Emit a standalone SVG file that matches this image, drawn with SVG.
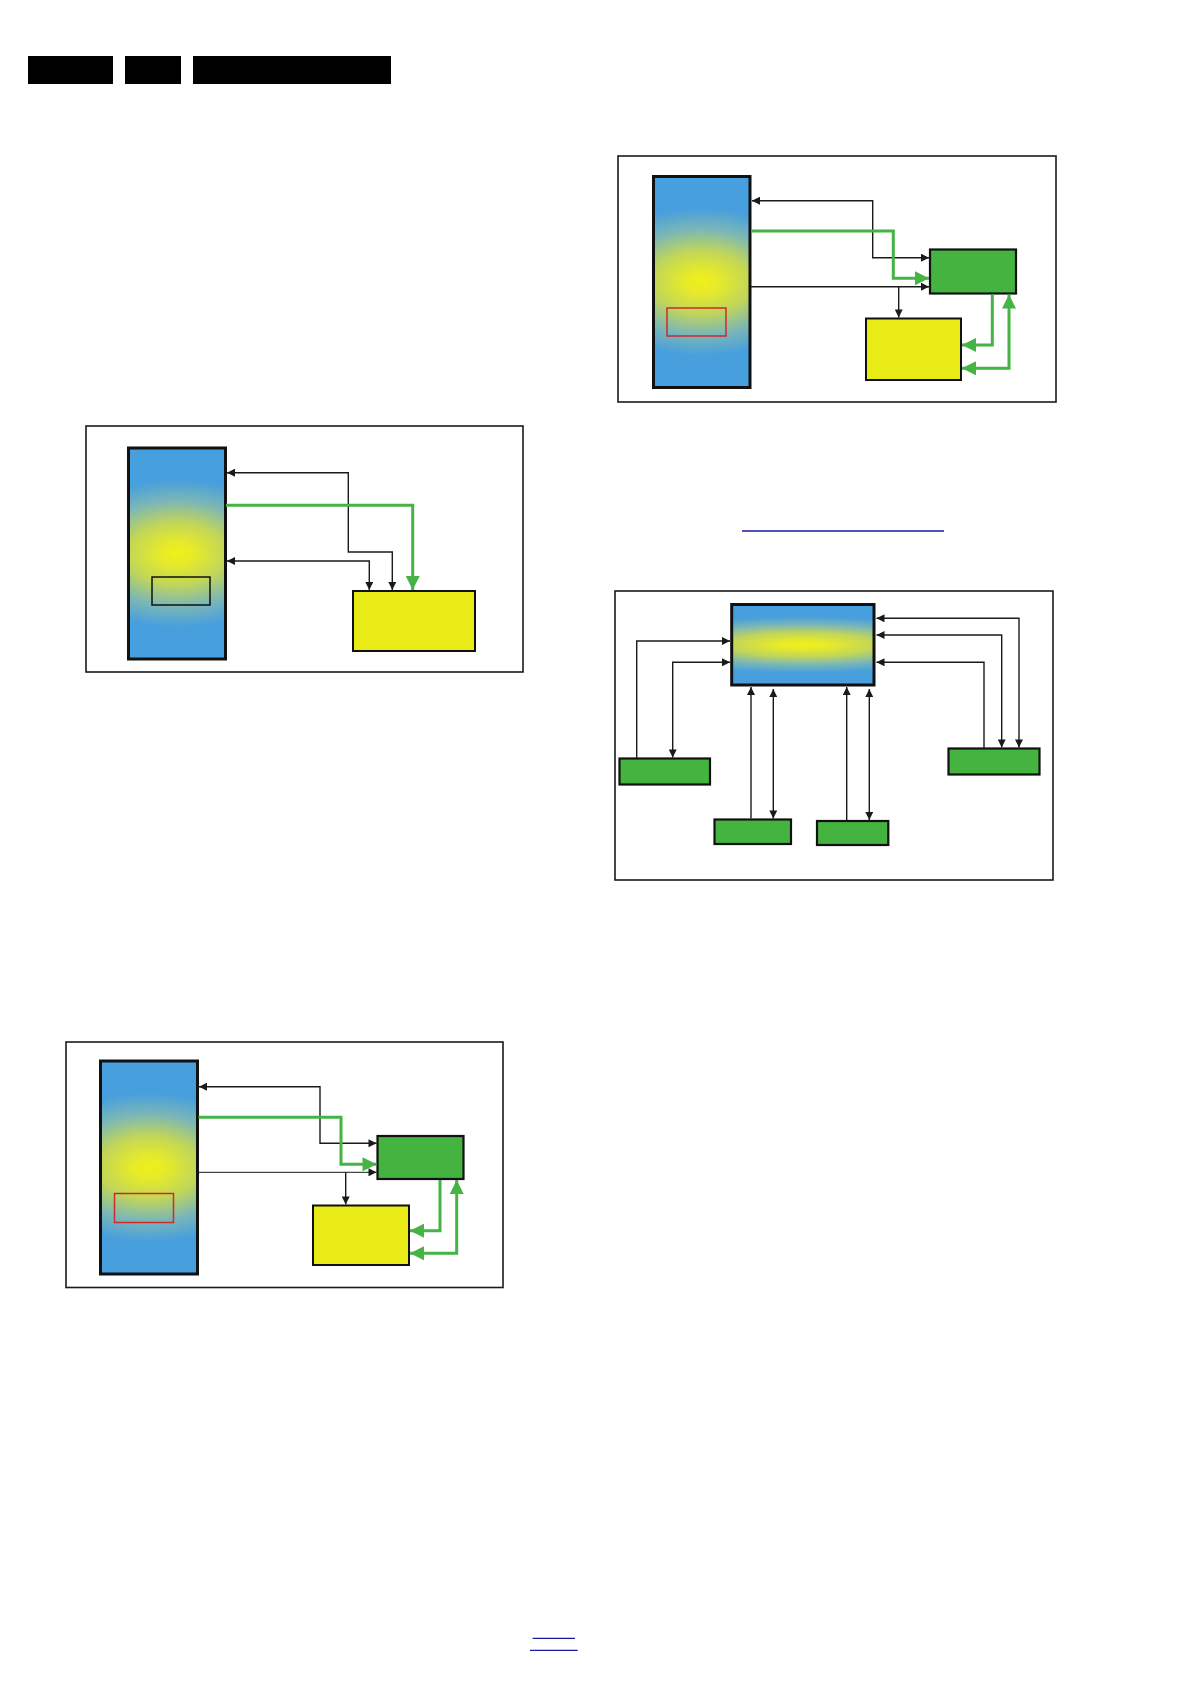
<svg xmlns="http://www.w3.org/2000/svg" width="1191" height="1684" viewBox="0 0 1191 1684">
<defs>
<radialGradient id="gTall" cx="0.5" cy="0.5" r="0.5" gradientTransform="translate(0.5,0.5) scale(2.4,0.7) translate(-0.5,-0.5)">
<stop offset="0" stop-color="#f0f01a"/>
<stop offset="0.15" stop-color="#e6ea2a"/>
<stop offset="0.42" stop-color="#c2d658"/>
<stop offset="0.72" stop-color="#7ab6b8"/>
<stop offset="1" stop-color="#479fdd"/>
</radialGradient>
<radialGradient id="gWide" cx="0.5" cy="0.5" r="0.5" gradientTransform="translate(0.5,0.5) scale(2.4,0.7) translate(-0.5,-0.5)">
<stop offset="0" stop-color="#f0f01a"/>
<stop offset="0.15" stop-color="#e6ea2a"/>
<stop offset="0.42" stop-color="#c2d658"/>
<stop offset="0.72" stop-color="#7ab6b8"/>
<stop offset="1" stop-color="#479fdd"/>
</radialGradient>
<marker id="ab" viewBox="0 0 10 10" refX="10" refY="5" markerUnits="userSpaceOnUse" markerWidth="9" markerHeight="8" orient="auto-start-reverse">
<path d="M0,0 L10,5 L0,10 z" fill="#1a1a1a"/>
</marker>
<marker id="ag" viewBox="0 0 10 10" refX="10" refY="5" markerUnits="userSpaceOnUse" markerWidth="15" markerHeight="14" orient="auto-start-reverse">
<path d="M0,0 L10,5 L0,10 z" fill="#46b345"/>
</marker>
<style>
.frame{fill:#fff;stroke:#1a1a1a;stroke-width:1.6}
.chip{stroke:#111;stroke-width:3}
.yel{fill:#e8eb15;stroke:#111;stroke-width:2}
.grn{fill:#44b33f;stroke:#111;stroke-width:2.2}
.bk{fill:none;stroke:#1a1a1a;stroke-width:1.4;marker-end:url(#ab)}
.bk2{fill:none;stroke:#1a1a1a;stroke-width:1.4;marker-start:url(#ab);marker-end:url(#ab)}
.gn{fill:none;stroke:#46b345;stroke-width:3;marker-end:url(#ag)}
.gn2{fill:none;stroke:#46b345;stroke-width:3;marker-start:url(#ag);marker-end:url(#ag)}
.hdr{fill:#000}
.lnk{stroke:#1a1aa0;stroke-width:1.3}
</style>
</defs>
<rect width="1191" height="1684" fill="#fff"/>

<g id="header">
<rect class="hdr" x="28" y="56" width="85" height="28"/>
<rect class="hdr" x="125" y="56" width="56" height="28"/>
<rect class="hdr" x="193" y="56" width="198" height="28"/>
</g>

<!-- Diagram 1 -->
<g id="frame1"><rect class="frame" x="86" y="426" width="437" height="246"/></g>
<g id="d1-chip"><rect class="chip" x="128.5" y="448" width="97" height="211" fill="url(#gTall)"/><rect x="152" y="577" width="58" height="28" fill="none" stroke="#111" stroke-width="1.5"/></g>
<g id="d1-yellow"><rect class="yel" x="353" y="591" width="122" height="60"/></g>
<g id="d1-connectors">
<path class="bk2" d="M227,472.7 H348.3 V552 H392.3 V590"/>
<path class="bk2" d="M227,561 H369.3 V590"/>
<path class="gn" d="M226,505.3 H412.7 V590"/>
</g>

<!-- Diagram 2 -->
<g id="frame2"><rect class="frame" x="618" y="156" width="438" height="246"/></g>
<g id="d2-chip"><rect class="chip" x="653.5" y="176.5" width="96.5" height="211" fill="url(#gTall)"/><rect x="667" y="308" width="59" height="28" fill="none" stroke="#d0282c" stroke-width="1.5"/></g>
<g id="d2-green"><rect class="grn" x="930" y="249.5" width="86" height="44"/></g>
<g id="d2-yellow"><rect class="yel" x="866" y="318.5" width="95" height="61.5"/></g>
<g id="d2-connectors">
<path class="bk2" d="M752,200.7 H872.7 V257.7 H929"/>
<path class="gn" d="M751,231 H893.3 V278.3 H929"/>
<path class="bk" d="M751,286.7 H929"/>
<path class="bk" d="M898.7,286.7 V317.5"/>
<path class="gn" d="M992.3,294.5 V345 H962"/>
<path class="gn2" d="M962,368.3 H1009 V294.5"/>
</g>

<!-- link line -->
<line class="lnk" x1="742" y1="531" x2="944" y2="531"/>

<!-- Diagram 4 -->
<g id="frame4"><rect class="frame" x="615" y="591" width="438" height="289"/></g>
<g id="d4-chip"><rect class="chip" x="731.7" y="604.5" width="142.3" height="80.5" fill="url(#gWide)"/></g>
<g id="d4-left"><rect class="grn" x="619.5" y="758.5" width="90.5" height="26"/></g>
<g id="d4-bot1"><rect class="grn" x="714.5" y="819.5" width="76.5" height="24.5"/></g>
<g id="d4-bot2"><rect class="grn" x="817" y="821" width="71.3" height="24"/></g>
<g id="d4-right"><rect class="grn" x="948.5" y="748.5" width="91" height="26"/></g>
<g id="d4-connectors">
<path class="bk" d="M636.7,758.3 V641 H730"/>
<path class="bk2" d="M730,662.3 H672.7 V757.5"/>
<path class="bk" d="M751,818.5 V687"/>
<path class="bk2" d="M773.3,689 V818.5"/>
<path class="bk" d="M846.7,820 V687"/>
<path class="bk2" d="M869.3,689 V820"/>
<path class="bk2" d="M876.5,618.3 H1019 V747.5"/>
<path class="bk2" d="M876.5,635 H1001.7 V747.5"/>
<path class="bk" d="M984,748.3 V662.3 H876.5"/>
</g>

<!-- Diagram 3 -->
<g id="frame3"><rect class="frame" x="66" y="1042" width="437" height="245.5"/></g>
<g id="d3-chip"><rect class="chip" x="100.5" y="1061" width="97" height="213" fill="url(#gTall)"/><rect x="114.5" y="1193.5" width="59" height="29" fill="none" stroke="#d0282c" stroke-width="1.5"/></g>
<g id="d3-green"><rect class="grn" x="377.5" y="1136" width="86" height="43"/></g>
<g id="d3-yellow"><rect class="yel" x="313" y="1205.5" width="96" height="59.5"/></g>
<g id="d3-connectors">
<path class="bk2" d="M199,1086.7 H320 V1143.3 H376.5"/>
<path class="gn" d="M198.5,1117.3 H341 V1164.3 H376.5"/>
<path class="bk" d="M198.5,1172.3 H376.5" style="stroke-width:1"/>
<path class="bk" d="M345.7,1172.3 V1204.5"/>
<path class="gn" d="M440,1180 V1230.7 H410"/>
<path class="gn2" d="M410,1253.3 H456.7 V1180"/>
</g>

<!-- footer links -->
<line class="lnk" x1="532.7" y1="1638.3" x2="575" y2="1638.3"/>
<line class="lnk" x1="530" y1="1650.3" x2="577.7" y2="1650.3"/>
</svg>
